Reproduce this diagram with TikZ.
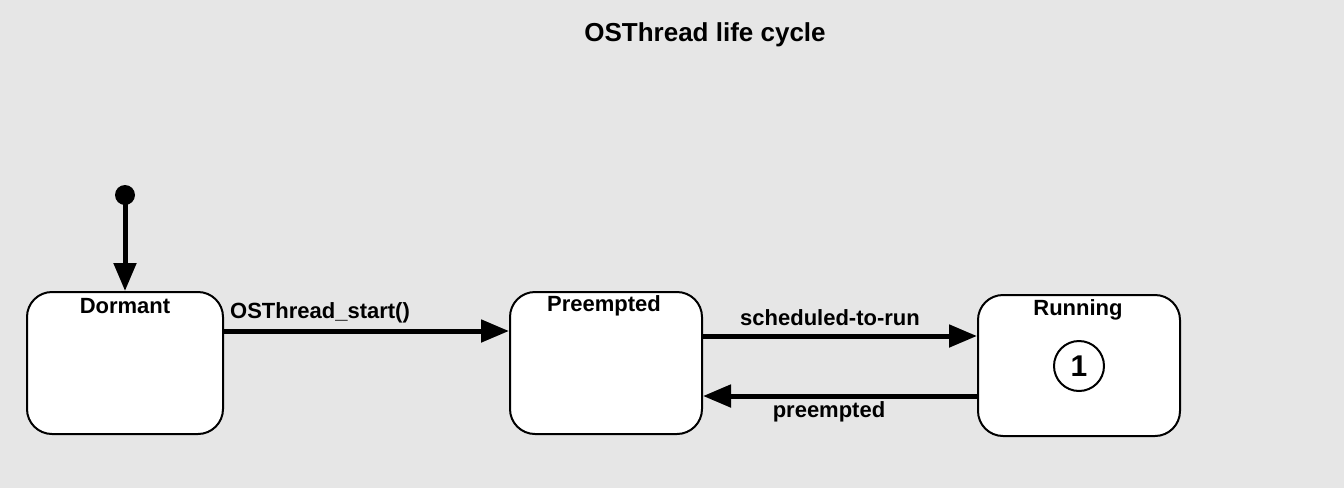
\documentclass[tikz,border=0pt]{standalone}
\usepackage{fontspec}
\setmainfont{Liberation Sans}
\usetikzlibrary{arrows.meta,calc}
\definecolor{bg}{HTML}{E6E6E6}
\tikzset{
  statebox/.style={draw=black,line width=2pt,fill=white,rounded corners=25pt,minimum width=#1,minimum height=142pt,inner sep=0pt},
  stlabel/.style={font=\fontsize{22}{24}\selectfont\bfseries,inner sep=0pt},
  trlabel/.style={font=\fontsize{22}{24}\selectfont\bfseries,inner sep=0pt},
  arr/.style={line width=5pt,-{Triangle[length=28pt,width=22pt]}},
}
\begin{document}
\begin{tikzpicture}[x=1pt,y=-1pt]
\fill[bg] (0,0) rectangle (1344,488);
\useasboundingbox (0,0) rectangle (1344,488);
\node[font=\fontsize{26}{28}\selectfont\bfseries,inner sep=0pt] (title) at (705,35) {OSThread life cycle};
\node[statebox=196pt] (dormant) at (125,363) {};
\node[statebox=192pt] (preempt) at (606,363) {};
\node[statebox=202pt,minimum height=141pt] (running) at (1079,365.5) {};
\node[stlabel] (dormantL) at (125,306) {Dormant};
\node[stlabel] (preemptL) at (604,306) {Preempted};
\node[stlabel] (runningL) at (1078,310) {Running};
\node[draw,circle,line width=2pt,minimum size=50pt,inner sep=0pt,font=\fontsize{30}{32}\selectfont\bfseries] (one) at (1079,366) {1};
\node[circle,fill=black,minimum size=20pt,inner sep=0pt] (init) at (125,195) {};
\draw[arr] (init.center) -- (dormant.north);
\draw[arr] ([yshift=32pt]dormant.east) -- ([yshift=32pt]preempt.west);
\draw[arr] ([yshift=27pt]preempt.east) -- ([yshift=29.5pt]running.west);
\draw[arr] ([yshift=-30.5pt]running.west) -- ([yshift=-33pt]preempt.east);
\node[trlabel,anchor=west] (l1) at (230,313) {OSThread\_start()};
\node[trlabel] (l2) at (830,318) {scheduled-to-run};
\node[trlabel] (l3) at (829,412) {preempted};
\end{tikzpicture}
\end{document}
